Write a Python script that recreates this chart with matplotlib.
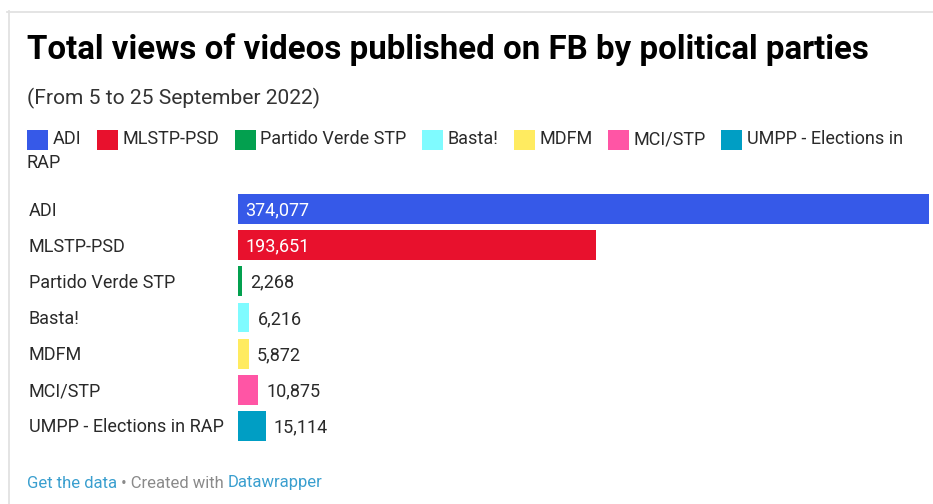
import matplotlib
matplotlib.use("Agg")
import matplotlib.pyplot as plt
from matplotlib.patches import Rectangle
from matplotlib.lines import Line2D
from matplotlib.transforms import blended_transform_factory

# ---- data ----
parties = ["ADI", "MLSTP-PSD", "Partido Verde STP", "Basta!", "MDFM", "MCI/STP",
           "UMPP - Elections in RAP"]
views = [374077, 193651, 2268, 6216, 5872, 10875, 15114]
colors = ["#3659e8", "#e8112d", "#03a04f", "#7ffbff", "#ffeb60", "#ff55a5", "#009ec4"]

title = "Total views of videos published on FB by political parties"
subtitle = "(From 5 to 25 September 2022)"

# ---- canvas 933x504 ----
W, H = 933, 504
DPI = 100
plt.rcParams["font.family"] = ["Roboto", "DejaVu Sans"]
fig = plt.figure(figsize=(W / DPI, H / DPI), dpi=DPI, facecolor="white")
renderer = fig.canvas.get_renderer()

FS = 13  # body text size
TXT = "#2a2a2a"
PT = 72 / DPI  # one pixel in points
DY = -1.5 * PT  # nudge labels a touch down to sit on the bar centre


def fx(x):
    return x / W


def fy(y):
    return 1 - y / H


def width_px(t):
    return t.get_window_extent(renderer).width


# light frame around the widget
fig.add_artist(Line2D([fx(7), 1], [fy(11.5), fy(11.5)], color="#e2e2e2", lw=1.3))
fig.add_artist(Line2D([fx(8.5), fx(8.5)], [fy(11), 0], color="#e2e2e2", lw=1.3))

# ---- header ----
fig.text(fx(27), fy(58.5), title, fontsize=23.8, fontweight="bold", color="#000000",
         va="baseline")
fig.text(fx(27), fy(104), subtitle, fontsize=15.1, color="#333333", va="baseline")

# ---- legend (wraps onto a second line like the original) ----
lx, ly = 27, 139
for i, (name, c) in enumerate(zip(parties, colors)):
    fig.add_artist(Rectangle((fx(lx), fy(ly + 11)), 21 / W, 20 / H, transform=fig.transFigure,
                             facecolor=c, edgecolor="none"))
    if i == len(parties) - 1:
        t = fig.text(fx(lx + 26), fy(ly), "UMPP - Elections in", fontsize=FS, color=TXT,
                     va="center")
        fig.text(fx(27), fy(ly + 24), "RAP", fontsize=FS, color=TXT, va="center")
    else:
        t = fig.text(fx(lx + 26), fy(ly), name, fontsize=FS, color=TXT, va="center")
    lx = lx + 26 + width_px(t) + 15

# ---- bars ----
ax = fig.add_axes([fx(238), fy(444), (929 - 238) / W, (444 - 191) / H])
ypos = list(range(len(parties)))
ax.barh(ypos, views, height=0.83, color=colors)
ax.set_xlim(0, max(views))
ax.set_ylim(len(parties) - 0.5, -0.5)
ax.axis("off")

lbl_tr = blended_transform_factory(fig.transFigure, ax.transData)
for y, name, v in zip(ypos, parties, views):
    ax.annotate(name, xy=(fx(29), y), xycoords=lbl_tr, xytext=(0, DY),
                textcoords="offset points", fontsize=FS, color=TXT, va="center")
    if v > 0.2 * max(views):
        ax.annotate(f"{v:,}", xy=(0, y), xytext=(7 * PT, DY), textcoords="offset points",
                    fontsize=FS, color="white", va="center")
    else:
        ax.annotate(f"{v:,}", xy=(v, y), xytext=(8 * PT, DY), textcoords="offset points",
                    fontsize=FS, color=TXT, va="center")

# ---- footer ----
fx0 = 27
t1 = fig.text(fx(fx0), fy(483), "Get the data", fontsize=12, color="#3a9fcf", va="center")
fx0 += width_px(t1)
t2 = fig.text(fx(fx0), fy(483), " \u2022 Created with ", fontsize=12, color="#8a8a8a",
              va="center")
fx0 += width_px(t2)
fig.text(fx(fx0), fy(483), "Datawrapper", fontsize=12, color="#3a9fcf", va="center")

fig.savefig("out.png", dpi=DPI, facecolor="white")
